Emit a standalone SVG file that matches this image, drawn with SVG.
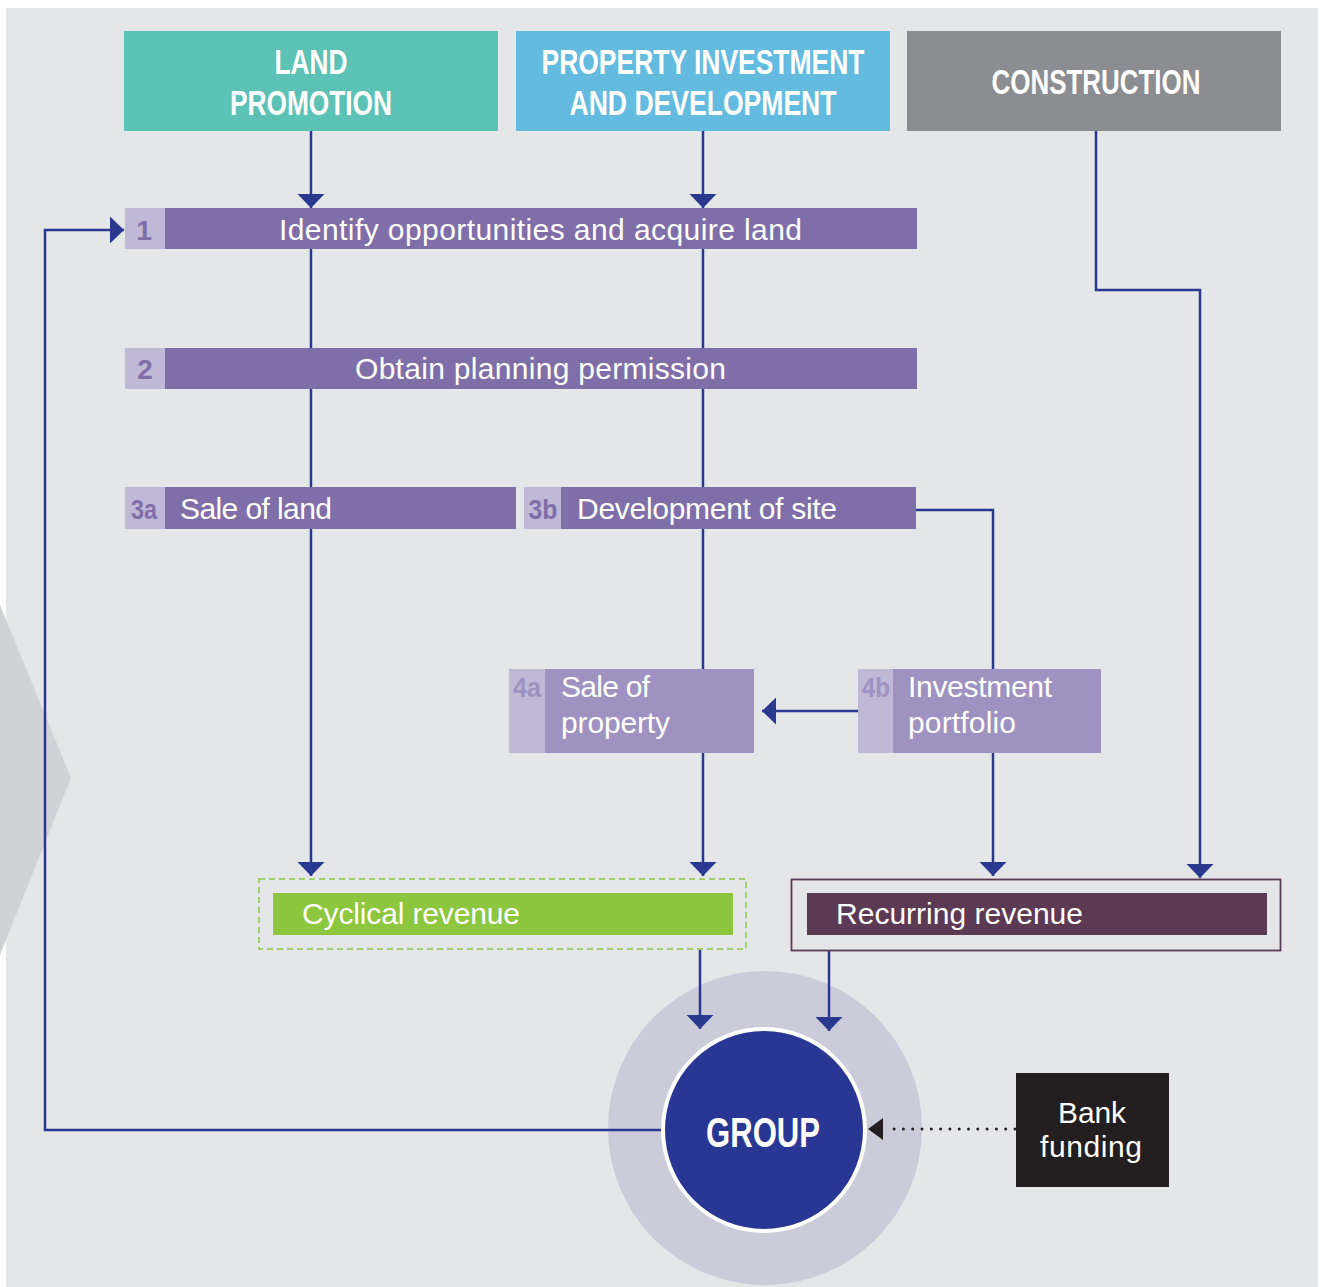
<svg xmlns="http://www.w3.org/2000/svg" width="1322" height="1287" viewBox="0 0 1322 1287">
  <defs>
    <style>
      .hdr { font-family: "Liberation Sans Narrow", "Liberation Sans", Arial, sans-serif; font-weight: bold; font-size: 35px; fill: #ffffff; }
      .num { font-family: "Liberation Sans Narrow", "Liberation Sans", Arial, sans-serif; font-weight: bold; font-size: 28px; text-anchor: middle; }
      .num1 { fill: #7f6fa8; }
      .num2 { fill: #9d92c0; }
      .lbl { font-family: "Liberation Sans", Arial, sans-serif; font-size: 30px; fill: #ffffff; }
      .bar { fill: #7f6fa8; }
      .bar2 { fill: #9e93c0; }
      .tab { fill: #bfb8d6; }
      .flow { fill: none; stroke: #2a3990; stroke-width: 2.5; }
      .flowA { fill: none; stroke: #2a3990; stroke-width: 2.5; marker-end: url(#arrow); }
    </style>
    <marker id="arrow" markerUnits="userSpaceOnUse" markerWidth="16" markerHeight="28" refX="14" refY="13.5" orient="auto" viewBox="0 0 16 28">
      <path d="M0,0 L14,13.5 L0,27 Z" fill="#2a3990"/>
    </marker>
    <marker id="arrowBlack" markerUnits="userSpaceOnUse" markerWidth="16" markerHeight="24" refX="15" refY="11" orient="auto" viewBox="0 0 16 24">
      <path d="M0,0 L15,11 L0,22 Z" fill="#231f20"/>
    </marker>
  </defs>

  <!-- page background -->
  <rect x="0" y="0" width="1322" height="1287" fill="#ffffff"/>
  <rect x="6" y="8" width="1312" height="1279" fill="#e5e6e8"/>
  <polygon points="0,605 71,778 0,955" fill="#d1d2d6"/>

  <!-- group core halo -->
  <circle cx="765" cy="1128" r="157" fill="#cbcbda"/>

  <!-- connectors -->
  <g id="connectors">
    <line class="flowA" x1="311" y1="131" x2="311" y2="208"/>
    <line class="flowA" x1="703" y1="131" x2="703" y2="208"/>
    <line class="flow" x1="311" y1="249" x2="311" y2="348"/>
    <line class="flow" x1="703" y1="249" x2="703" y2="348"/>
    <line class="flow" x1="311" y1="389" x2="311" y2="487"/>
    <line class="flow" x1="703" y1="389" x2="703" y2="487"/>
    <line class="flowA" x1="311" y1="529" x2="311" y2="876"/>
    <line class="flow" x1="703" y1="529" x2="703" y2="669"/>
    <polyline class="flow" points="916,510 993,510 993,669"/>
    <line class="flowA" x1="858" y1="711" x2="762" y2="711"/>
    <line class="flowA" x1="703" y1="753" x2="703" y2="876"/>
    <line class="flowA" x1="993" y1="753" x2="993" y2="876"/>
    <polyline class="flowA" points="1096,131 1096,290 1200,290 1200,878"/>
    <line class="flowA" x1="700" y1="950" x2="700" y2="1029"/>
    <line class="flowA" x1="829" y1="951" x2="829" y2="1031"/>
    <polyline class="flowA" points="662,1130 45,1130 45,230 124,230"/>
    <line x1="1015" y1="1129" x2="885" y2="1129" stroke="#231f20" stroke-width="3" stroke-linecap="round" stroke-dasharray="0 9.3"/>
    <line x1="890" y1="1129" x2="868" y2="1129" stroke="none" marker-end="url(#arrowBlack)"/>
  </g>

  <!-- business line headers -->
  <g id="land-promotion">
    <rect x="124" y="31" width="374" height="100" fill="#5dc2b6"/>
    <text class="hdr" x="311" y="74" text-anchor="middle" textLength="73" lengthAdjust="spacingAndGlyphs">LAND</text>
    <text class="hdr" x="311" y="115" text-anchor="middle" textLength="162" lengthAdjust="spacingAndGlyphs">PROMOTION</text>
  </g>
  <g id="property-investment">
    <rect x="516" y="31" width="374" height="100" fill="#63bce0"/>
    <text class="hdr" x="703" y="74" text-anchor="middle" textLength="323" lengthAdjust="spacingAndGlyphs">PROPERTY INVESTMENT</text>
    <text class="hdr" x="703" y="115" text-anchor="middle" textLength="267" lengthAdjust="spacingAndGlyphs">AND DEVELOPMENT</text>
  </g>
  <g id="construction">
    <rect x="907" y="31" width="374" height="100" fill="#8c8d91"/>
    <text class="hdr" x="1096" y="94" text-anchor="middle" textLength="209" lengthAdjust="spacingAndGlyphs">CONSTRUCTION</text>
  </g>

  <!-- process steps -->
  <g id="step-1">
    <rect class="tab" x="125" y="208" width="40" height="41"/>
    <rect class="bar" x="165" y="208" width="752" height="41"/>
    <text class="num num1" x="144" y="240">1</text>
    <text class="lbl" x="279" y="240" textLength="523">Identify opportunities and acquire land</text>
  </g>
  <g id="step-2">
    <rect class="tab" x="125" y="348" width="40" height="41"/>
    <rect class="bar" x="165" y="348" width="752" height="41"/>
    <text class="num num1" x="145" y="379">2</text>
    <text class="lbl" x="355" y="379" textLength="371">Obtain planning permission</text>
  </g>
  <g id="step-3a">
    <rect class="tab" x="125" y="487" width="40" height="42"/>
    <rect class="bar" x="165" y="487" width="351" height="42"/>
    <text class="num num1" x="144" y="519" textLength="26" lengthAdjust="spacingAndGlyphs">3a</text>
    <text class="lbl" x="180" y="519" textLength="152">Sale of land</text>
  </g>
  <g id="step-3b">
    <rect class="tab" x="524" y="487" width="37" height="42"/>
    <rect class="bar" x="561" y="487" width="355" height="42"/>
    <text class="num num1" x="543" y="519" textLength="29" lengthAdjust="spacingAndGlyphs">3b</text>
    <text class="lbl" x="577" y="519" textLength="260">Development of site</text>
  </g>
  <g id="step-4a">
    <rect class="tab" x="509" y="669" width="36" height="84"/>
    <rect class="bar2" x="545" y="669" width="209" height="84"/>
    <text class="num num2" x="527" y="697" textLength="28" lengthAdjust="spacingAndGlyphs">4a</text>
    <text class="lbl" x="561" y="697" textLength="89">Sale of</text>
    <text class="lbl" x="561" y="733" textLength="109">property</text>
  </g>
  <g id="step-4b">
    <rect class="tab" x="858" y="669" width="35" height="84"/>
    <rect class="bar2" x="893" y="669" width="208" height="84"/>
    <text class="num num2" x="876" y="697" textLength="28" lengthAdjust="spacingAndGlyphs">4b</text>
    <text class="lbl" x="908" y="697" textLength="144">Investment</text>
    <text class="lbl" x="908" y="733" textLength="108">portfolio</text>
  </g>

  <!-- revenue streams -->
  <g id="cyclical-revenue">
    <rect x="259" y="879" width="487" height="70" fill="none" stroke="#8dc63f" stroke-width="1.5" stroke-dasharray="6 4"/>
    <rect x="273" y="893" width="460" height="42" fill="#8dc63f"/>
    <text class="lbl" x="302" y="924" textLength="218">Cyclical revenue</text>
  </g>
  <g id="recurring-revenue">
    <rect x="791.5" y="879.5" width="489" height="71" fill="none" stroke="#5c3a54" stroke-width="1.8"/>
    <rect x="807" y="893" width="460" height="42" fill="#5c3a54"/>
    <text class="lbl" x="836" y="924" textLength="247">Recurring revenue</text>
  </g>

  <!-- group core -->
  <g id="group">
    <circle cx="764" cy="1130" r="101" fill="#283793" stroke="#ffffff" stroke-width="4"/>
    <text class="hdr" x="763" y="1147" text-anchor="middle" font-size="43" style="font-size:43px" textLength="114" lengthAdjust="spacingAndGlyphs">GROUP</text>
  </g>

  <!-- external funding -->
  <g id="bank-funding">
    <rect x="1016" y="1073" width="153" height="114" fill="#231f20"/>
    <text class="lbl" x="1092" y="1123" text-anchor="middle" textLength="68">Bank</text>
    <text class="lbl" x="1091" y="1157" text-anchor="middle" textLength="102">funding</text>
  </g>
</svg>
